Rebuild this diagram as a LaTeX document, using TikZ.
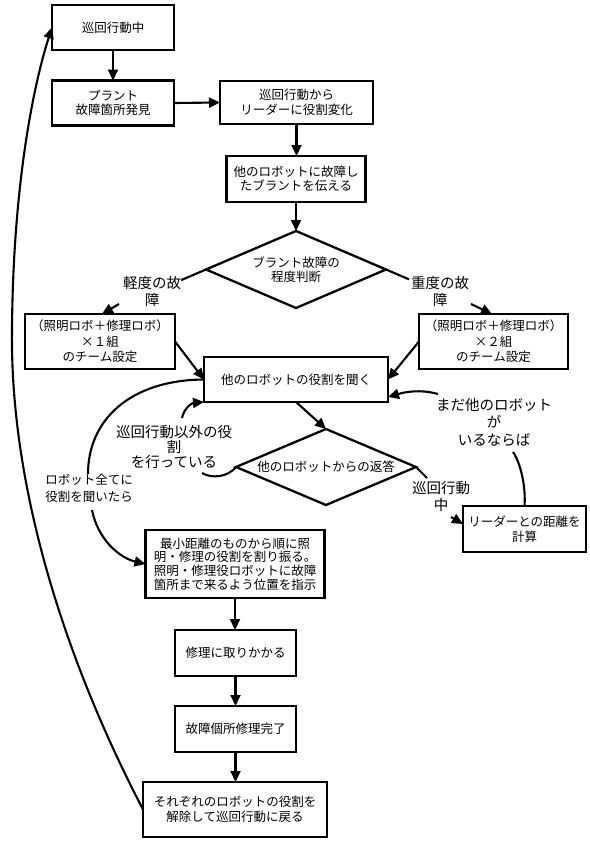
\documentclass[tikz,border=0pt]{standalone}
\usepackage{fontspec}
\setmainfont{Noto Sans CJK JP}
\usetikzlibrary{arrows.meta,shapes.geometric,calc}
\begin{document}
\begin{tikzpicture}[x=1bp,y=-1bp,
  every node/.style={font=\fontsize{12.5bp}{14.5bp}\selectfont, inner sep=0pt, outer sep=0pt},
  box/.style={draw, line width=2.3bp, rectangle, align=center},
  dia/.style={draw, line width=2.3bp, diamond, aspect=2.3, align=center},
  lbl/.style={align=center, font=\fontsize{14.5bp}{17bp}\selectfont},
  arr/.style={line width=2.1bp, -{Triangle[length=11bp,width=10bp]}},
  ln/.style={line width=2.1bp},
]
\useasboundingbox (0,0) rectangle (590,842);

% boxes
\node[box, minimum width=122bp, minimum height=45bp] (b1) at (113,27.5) {巡回行動中};
\node[box, minimum width=122bp, minimum height=45bp] (b2) at (113,103) {プラント\\故障箇所発見};
\node[box, minimum width=153bp, minimum height=43bp] (b3) at (296.5,102.5) {巡回行動から\\リーダーに役割変化};
\node[box, minimum width=139bp, minimum height=46bp] (b4) at (296,179) {他のロボットに故障し\\たブラントを伝える};
\node[dia, minimum width=180bp, minimum height=77bp] (d1) at (296,269.5) {ブラント故障の\\程度判断};
\node[box, minimum width=150bp, minimum height=55bp, font=\fontsize{12.5bp}{15.5bp}\selectfont] (b5) at (100,341.5) {（照明ロボ＋修理ロボ）\\×１組\\のチーム設定};
\node[box, minimum width=149bp, minimum height=55bp, font=\fontsize{12.5bp}{15.5bp}\selectfont] (b6) at (493.5,341.5) {（照明ロボ＋修理ロボ）\\×２組\\のチーム設定};
\node[box, minimum width=184bp, minimum height=45bp] (b8) at (296,379.5) {他のロボットの役割を聞く};
\node[dia, minimum width=180bp, minimum height=76bp] (d2) at (326,467) {他のロボットからの返答};
\node[box, minimum width=123bp, minimum height=46bp] (b10) at (524.5,529) {リーダーとの距離を\\計算};
\node[box, minimum width=179bp, minimum height=68bp, font=\fontsize{12.5bp}{13.6bp}\selectfont] (b11) at (235,564) {最小距離のものから順に照\\明・修理の役割を割り振る。\\照明・修理役ロボットに故障\\箇所まで来るよう位置を指示};
\node[box, minimum width=121bp, minimum height=46bp] (b12) at (235.5,653) {修理に取りかかる};
\node[box, minimum width=121bp, minimum height=46bp] (b13) at (235.5,729) {故障個所修理完了};
\node[box, minimum width=184bp, minimum height=55bp] (b14) at (235,809.5) {それぞれのロボットの役割を\\解除して巡回行動に戻る};

% labels
\node[lbl] (lab1) at (152,291) {軽度の故\\障};
\node[lbl] (lab2) at (440,291) {重度の故\\障};
\node[lbl, font=\fontsize{14.5bp}{15bp}\selectfont] (lab4) at (174,447) {巡回行動以外の役\\割\\を行っている};
\node[lbl, font=\fontsize{14.5bp}{17.5bp}\selectfont] (lab6) at (494,422) {まだ他のロボット\\が\\いるならば};
\node[lbl] (lab5) at (441,496) {巡回行動\\中};
\node[lbl, font=\fontsize{12.5bp}{17bp}\selectfont] (lab3) at (89,488.5) {ロボット全てに\\役割を聞いたら};

% helper coordinates
\coordinate (c1) at ($(d1.west)!-27bp!(d1.north)$);
\coordinate (c2) at ($(d1.east)!-25bp!(d1.north)$);
\coordinate (a1s) at (119,304);
\coordinate (a1e) at (102,314);
\coordinate (a2s) at (471,304);
\coordinate (a2e) at (492,314);
\coordinate (c5) at (427,478);
\coordinate (c6) at (451,517);
\coordinate (c7) at ($(b10.west)+(0,-5)$);
\coordinate (c8) at (513,452);
\coordinate (c9) at (438,394);
\coordinate (c10) at ($(b8.south east)+(0,-5)$);
\coordinate (c11) at (202,473);
\coordinate (c12) at (182,418);
\coordinate (c13) at (88,474);
\coordinate (c14) at (92,510);
\coordinate (c15) at (12,330);

% connectors
\draw[arr] (b1.south) -- (b2.north);
\draw[arr] (b2.east) -- (b3.west);
\draw[arr] (b3.south) -- (b3.south |- b4.north);
\draw[arr] (b4.south) -- (d1.north);
\draw[ln] (d1.west) -- (c1);
\draw[ln] (d1.east) -- (c2);
\draw[arr] (a1s) -- (a1e);
\draw[arr] (a2s) -- (a2e);
\draw[arr] (b5.east) -- (b8.west);
\draw[arr] (b6.west) -- (b8.east);
\draw[arr] (b8.south) -- (d2.north);
\draw[ln] (d2.east) -- (c5);
\draw[arr] (c6) -- (c7);
\draw[ln] (b10.north) .. controls (526,485) and (520,462) .. (c8);
\draw[arr] (c9) .. controls (420,389) and (405,392) .. (c10);
\draw[ln] (d2.west) .. controls (228,477) and (212,479) .. (c11);
\draw[arr] (c12) .. controls (184,408) and (192,403) .. (b8.south west);
\draw[ln] (b8.west) .. controls (130,380) and (88,420) .. (c13);
\draw[arr] (c14) .. controls (98,540) and (120,558) .. (b11.west);
\draw[arr] (b11.south) -- (b11.south |- b12.north);
\draw[arr] (b12.south) -- (b13.north);
\draw[arr] (b13.south) -- (b13.south |- b14.north);
\draw[arr] (b14.west) .. controls (60,650) and (10,480) .. (c15) .. controls (13,180) and (35,80) .. (b1.west);
\end{tikzpicture}
\end{document}
